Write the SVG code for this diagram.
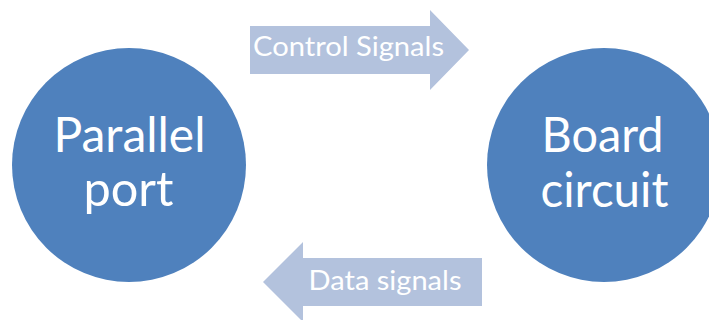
<svg xmlns="http://www.w3.org/2000/svg" width="709" height="320" viewBox="0 0 709 320">
  <style>
    .node { fill: #4F81BD; }
    .node-label { fill: #FFFFFF; font-family: Lato, "Open Sans", "Liberation Sans", sans-serif; font-size: 48px; text-anchor: middle; }
    .flow { fill: #B3C2DD; }
    .flow-label { fill: #FFFFFF; font-family: Lato, "Open Sans", "Liberation Sans", sans-serif; font-size: 26px; text-anchor: middle; }
  </style>
  <rect width="709" height="320" fill="#FFFFFF"/>

  <!-- block arrows between the two units -->
  <g id="connectors">
    <g id="control-signals">
      <polygon class="flow" points="250,26 430,26 430,10 469,50 430,90 430,74 250,74"/>
      <text class="flow-label" x="348.5" y="56" textLength="191" lengthAdjust="spacingAndGlyphs">Control Signals</text>
    </g>
    <g id="data-signals">
      <polygon class="flow" points="482,258 303,258 303,242 263,282 303,322 303,306 482,306"/>
      <text class="flow-label" x="385" y="290" textLength="153" lengthAdjust="spacingAndGlyphs">Data signals</text>
    </g>
  </g>

  <g id="parallel-port">
    <circle class="node" cx="129" cy="165" r="117"/>
    <text class="node-label" x="129.5" y="152" textLength="152" lengthAdjust="spacingAndGlyphs">Parallel</text>
    <text class="node-label" x="128.5" y="206" textLength="90" lengthAdjust="spacingAndGlyphs">port</text>
  </g>

  <g id="board-circuit">
    <circle class="node" cx="604" cy="165" r="117"/>
    <text class="node-label" x="602.5" y="152" textLength="122" lengthAdjust="spacingAndGlyphs">Board</text>
    <text class="node-label" x="604.5" y="207" textLength="128" lengthAdjust="spacingAndGlyphs">circuit</text>
  </g>
</svg>
